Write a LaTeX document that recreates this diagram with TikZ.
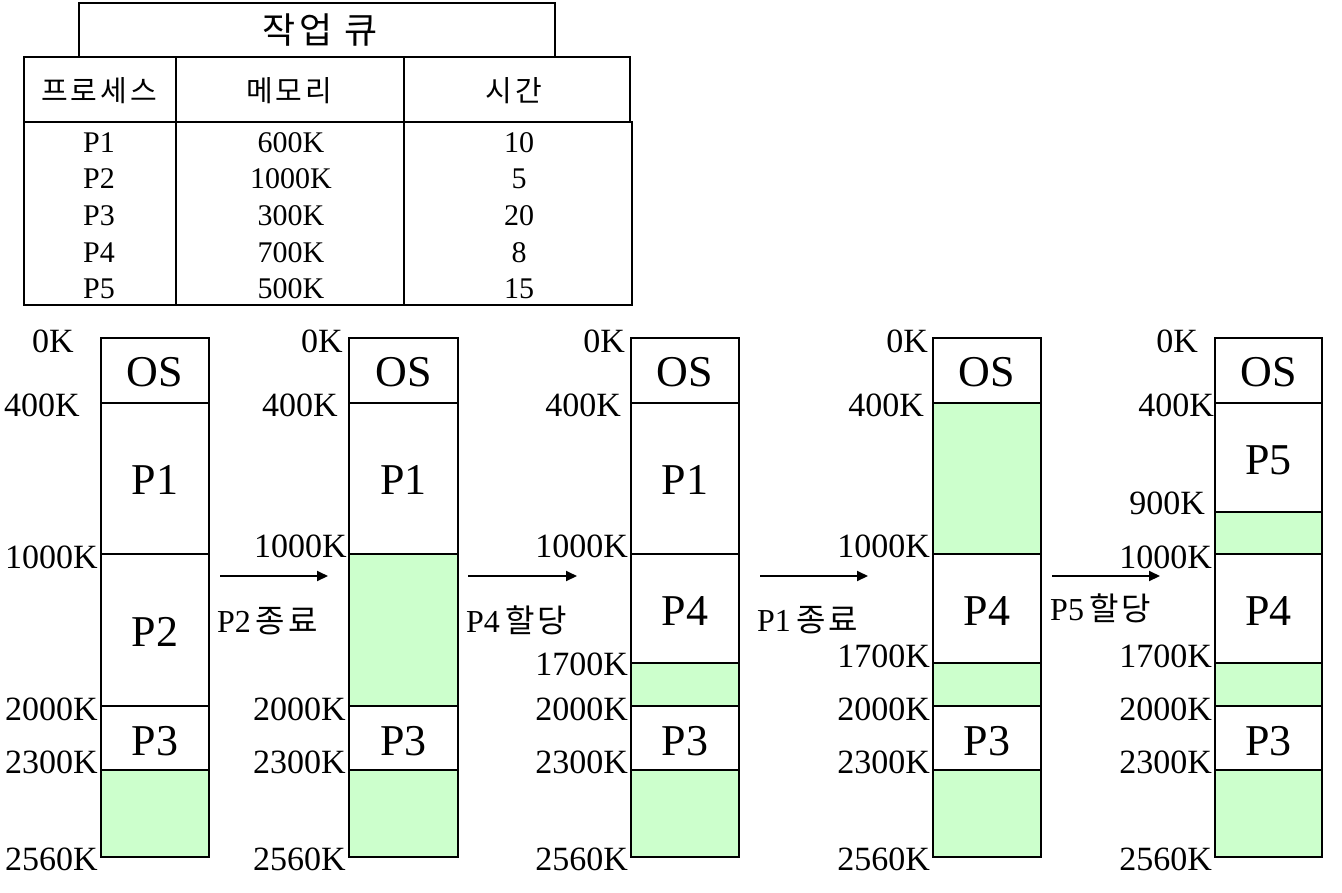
\documentclass[tikz,border=0pt]{standalone}
\usepackage{fontspec}
\setmainfont{Liberation Serif}
\newfontfamily\kr[LetterSpace=10]{Noto Sans CJK KR}
\usetikzlibrary{arrows.meta}
\definecolor{freec}{HTML}{CCFFCC}
\begin{document}
\begin{tikzpicture}[x=1pt,y=-1pt,
  box/.style={line width=2.7pt},
  free/.style={fill=freec},
  lab/.style={anchor=east,inner sep=0pt,font=\fontsize{34}{36}\selectfont},
  seglab/.style={inner sep=0pt,font=\fontsize{44}{48}\selectfont},
  tcell/.style={inner sep=0pt,font=\fontsize{30}{32}\selectfont},
  thead/.style={inner sep=0pt,font=\kr\fontsize{29}{31}\selectfont},
  ttitle/.style={inner sep=0pt,font=\kr\fontsize{36}{38}\selectfont},
  arr/.style={line width=2pt,-{Triangle[length=11pt,width=10pt]}},
  alab/.style={anchor=west,inner sep=0pt,font=\fontsize{32}{34}\selectfont}]
\useasboundingbox (0,0) rectangle (1342,892);

% ---------- job queue table ----------
\draw[box] (79,57) -- (79,3) -- (555,3) -- (555,57);
\draw[box] (24,57) rectangle (630,122);
\draw[box] (24,122) rectangle (632,305);
\draw[box] (176,57) -- (176,305);
\draw[box] (404,57) -- (404,305);
\node[ttitle] (title) at (320,30) {작업 큐};
\node[thead] (h1) at (99,91) {프로세스};
\node[thead] (h2) at (289,91) {메모리};
\node[thead] (h3) at (514,91) {시간};
\foreach \p/\m/\t/\y [count=\i] in {P1/600K/10/143,P2/1000K/5/179,P3/300K/20/216,P4/700K/8/253,P5/500K/15/289}{
  \node[tcell] (rp\i) at (99,\y) {\p};
  \node[tcell] (rm\i) at (291,\y) {\m};
  \node[tcell] (rt\i) at (519,\y) {\t};
}

% ---------- column 1 ----------
\fill[free] (101,770) rectangle (209,857);
\draw[box] (101,338) rectangle (209,857);
\draw[box] (101,403) -- (209,403) (101,554) -- (209,554) (101,706) -- (209,706) (101,770) -- (209,770);
\node[seglab] (c1os) at (155,372) {OS};
\node[seglab] (c1p1) at (155,480) {P1};
\node[seglab] (c1p2) at (155,632) {P2};
\node[seglab] (c1p3) at (155,741) {P3};
\node[lab] (c1l0) at (74,341) {0K};
\node[lab] (c1l1) at (80,405) {400K};
\node[lab] (c1l2) at (98,557) {1000K};
\node[lab] (c1l3) at (98,709) {2000K};
\node[lab] (c1l4) at (98,762) {2300K};
\node[lab] (c1l5) at (98,859) {2560K};

% ---------- column 2 ----------
\fill[free] (349,554) rectangle (458,706);
\fill[free] (349,770) rectangle (458,857);
\draw[box] (349,338) rectangle (458,857);
\draw[box] (349,403) -- (458,403) (349,554) -- (458,554) (349,706) -- (458,706) (349,770) -- (458,770);
\node[seglab] (c2os) at (403.5,372) {OS};
\node[seglab] (c2p1) at (403.5,480) {P1};
\node[seglab] (c2p3) at (403.5,741) {P3};
\node[lab] (c2l0) at (343,341) {0K};
\node[lab] (c2l1) at (338,405) {400K};
\node[lab] (c2l2) at (347,546) {1000K};
\node[lab] (c2l3) at (346,709) {2000K};
\node[lab] (c2l4) at (346,762) {2300K};
\node[lab] (c2l5) at (346,859) {2560K};

% ---------- column 3 ----------
\fill[free] (631,663) rectangle (739,706);
\fill[free] (631,770) rectangle (739,857);
\draw[box] (631,338) rectangle (739,857);
\draw[box] (631,403) -- (739,403) (631,554) -- (739,554) (631,663) -- (739,663) (631,706) -- (739,706) (631,770) -- (739,770);
\node[seglab] (c3os) at (685,372) {OS};
\node[seglab] (c3p1) at (685,480) {P1};
\node[seglab] (c3p4) at (685,611) {P4};
\node[seglab] (c3p3) at (685,741) {P3};
\node[lab] (c3l0) at (625,341) {0K};
\node[lab] (c3l1) at (621,405) {400K};
\node[lab] (c3l2) at (628,546) {1000K};
\node[lab] (c3l3) at (628,664) {1700K};
\node[lab] (c3l4) at (628,709) {2000K};
\node[lab] (c3l5) at (628,762) {2300K};
\node[lab] (c3l6) at (628,859) {2560K};

% ---------- column 4 ----------
\fill[free] (933,403) rectangle (1041,554);
\fill[free] (933,663) rectangle (1041,706);
\fill[free] (933,770) rectangle (1041,857);
\draw[box] (933,338) rectangle (1041,857);
\draw[box] (933,403) -- (1041,403) (933,554) -- (1041,554) (933,663) -- (1041,663) (933,706) -- (1041,706) (933,770) -- (1041,770);
\node[seglab] (c4os) at (987,372) {OS};
\node[seglab] (c4p4) at (987,611) {P4};
\node[seglab] (c4p3) at (987,741) {P3};
\node[lab] (c4l0) at (928,341) {0K};
\node[lab] (c4l1) at (924,405) {400K};
\node[lab] (c4l2) at (930,546) {1000K};
\node[lab] (c4l3) at (930,656) {1700K};
\node[lab] (c4l4) at (930,709) {2000K};
\node[lab] (c4l5) at (930,762) {2300K};
\node[lab] (c4l6) at (930,859) {2560K};

% ---------- column 5 ----------
\fill[free] (1215,512) rectangle (1322,554);
\fill[free] (1215,663) rectangle (1322,706);
\fill[free] (1215,770) rectangle (1322,857);
\draw[box] (1215,338) rectangle (1322,857);
\draw[box] (1215,403) -- (1322,403) (1215,512) -- (1322,512) (1215,554) -- (1322,554) (1215,663) -- (1322,663) (1215,706) -- (1322,706) (1215,770) -- (1322,770);
\node[seglab] (c5os) at (1268.5,372) {OS};
\node[seglab] (c5p5) at (1268.5,460) {P5};
\node[seglab] (c5p4) at (1268.5,611) {P4};
\node[seglab] (c5p3) at (1268.5,741) {P3};
\node[lab] (c5l0) at (1198,341) {0K};
\node[lab] (c5l1) at (1214,405) {400K};
\node[lab] (c5l2) at (1205,503) {900K};
\node[lab] (c5l3) at (1212,557) {1000K};
\node[lab] (c5l4) at (1212,656) {1700K};
\node[lab] (c5l5) at (1212,709) {2000K};
\node[lab] (c5l6) at (1212,762) {2300K};
\node[lab] (c5l7) at (1212,859) {2560K};

% ---------- arrows ----------
\coordinate (a1s) at (220,576); \coordinate (a1e) at (328,576);
\coordinate (a2s) at (468,576); \coordinate (a2e) at (577,576);
\coordinate (a3s) at (760,576); \coordinate (a3e) at (868,576);
\coordinate (a4s) at (1052,576); \coordinate (a4e) at (1160,576);
\draw[arr] (a1s) -- (a1e);
\draw[arr] (a2s) -- (a2e);
\draw[arr] (a3s) -- (a3e);
\draw[arr] (a4s) -- (a4e);
\node[alab] (t1) at (217,621) {P2\hspace{5pt}{\kr 종료}};
\node[alab] (t2) at (466,620) {P4\hspace{5pt}{\kr 할당}};
\node[alab] (t3) at (757,620) {P1\hspace{5pt}{\kr 종료}};
\node[alab] (t4) at (1050,608) {P5\hspace{5pt}{\kr 할당}};
\end{tikzpicture}
\end{document}
